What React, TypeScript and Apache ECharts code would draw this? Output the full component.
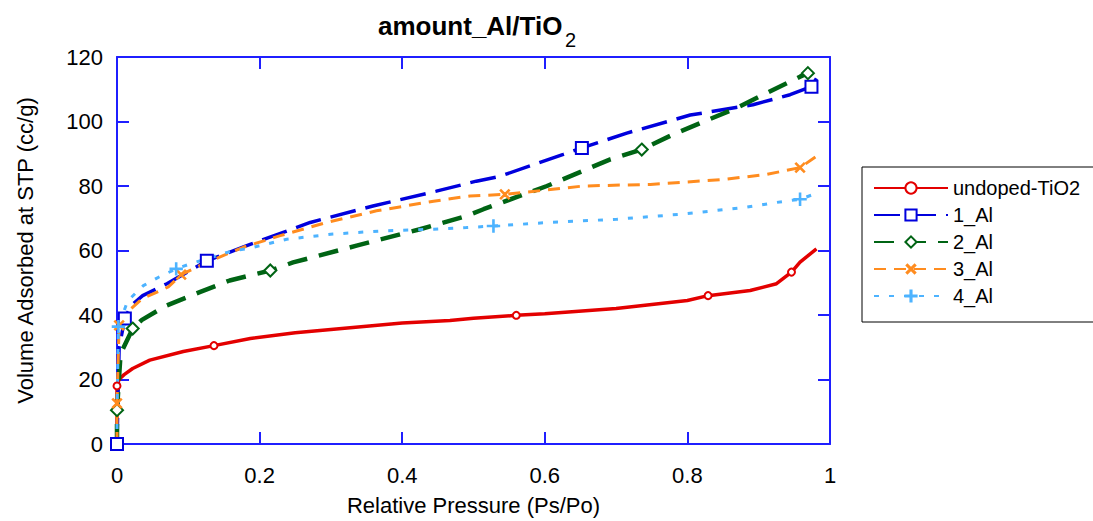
import React, { useEffect, useRef } from "react";
import * as echarts from "echarts";

const FONT = "'Liberation Sans', Arial, sans-serif";

const seriesNames = ["undoped-TiO2", "1_Al", "2_Al", "3_Al", "4_Al"];

const undopedX = [0, 0, 0.002, 0.005, 0.01, 0.022, 0.046, 0.093, 0.136, 0.187, 0.25, 0.3, 0.4, 0.467, 0.5, 0.56, 0.6, 0.7, 0.8, 0.829, 0.888, 0.925, 0.946, 0.958, 0.981];
const undopedY = [0, 18, 19.5, 20.5, 21.5, 23.4, 26, 28.7, 30.5, 32.7, 34.5, 35.5, 37.5, 38.3, 39, 39.9, 40.4, 42, 44.5, 46, 47.6, 49.7, 53.3, 56.4, 60.5];
const undopedMarks = [1, 8, 15, 19, 22];

const al1X = [0, 0.003, 0.011, 0.02, 0.036, 0.07, 0.126, 0.182, 0.271, 0.359, 0.448, 0.504, 0.537, 0.626, 0.652, 0.715, 0.804, 0.892, 0.944, 0.974, 0.981];
const al1Y = [0, 30, 38.9, 43, 46, 49.7, 56.8, 61.5, 68.7, 73.8, 78.4, 81.5, 83, 89.8, 91.8, 96.4, 102, 105.2, 108.3, 110.8, 113.4];
const al1Marks = [0, 2, 6, 14, 19];

const al2X = [0, 0, 0.005, 0.022, 0.035, 0.07, 0.116, 0.158, 0.215, 0.247, 0.336, 0.425, 0.49, 0.514, 0.603, 0.691, 0.736, 0.78, 0.869, 0.911, 0.958, 0.969];
const al2Y = [0, 10.5, 28, 35.8, 38.5, 43, 47.1, 50.7, 53.8, 56.3, 61.5, 66.6, 70.7, 72.8, 80, 88.2, 91.3, 96, 104.2, 108.8, 113.9, 115];
const al2Marks = [1, 3, 8, 16, 21];

const al3X = [0, 0, 0.003, 0.01, 0.035, 0.072, 0.09, 0.126, 0.177, 0.229, 0.294, 0.364, 0.444, 0.495, 0.544, 0.654, 0.748, 0.85, 0.911, 0.958, 0.981];
const al3Y = [0, 12.6, 36.8, 40, 45, 48.7, 52.5, 56.3, 61, 64.6, 68.7, 72.3, 75.3, 76.9, 77.4, 80, 80.5, 82, 83.6, 85.7, 89.2];
const al3Marks = [1, 2, 6, 14, 19];

const al4X = [0, 0, 0.002, 0.015, 0.037, 0.059, 0.083, 0.102, 0.156, 0.191, 0.238, 0.303, 0.373, 0.444, 0.49, 0.528, 0.607, 0.701, 0.794, 0.878, 0.925, 0.958, 0.977];
const al4Y = [0, 10, 36.4, 44.4, 49.1, 51.8, 54.3, 55.8, 59.5, 61, 63.5, 65.1, 66.1, 66.6, 67.1, 67.6, 68.7, 69.7, 71.3, 73.3, 74.9, 75.9, 77.4];
const al4Marks = [2, 6, 15, 21];

const xTicks = { min: 0, max: 1, interval: 0.2 };
const yTicks = { min: 0, max: 120, interval: 20 };

const PLUS = "path://M5.4,0H6.6V5.4H12V6.6H6.6V12H5.4V6.6H0V5.4H5.4Z";

const AXIS_BLUE = "#1f1fff";

function build(xs: number[], ys: number[], marks: number[], sym: string) {
  return xs.map((x, i) => ({
    value: [x, ys[i]],
    symbol: marks.includes(i) ? sym : "none",
  }));
}

const axisLine = { show: true, onZero: false, lineStyle: { color: AXIS_BLUE, width: 2 } };
const axisTick = { show: true, inside: true, length: 12, lineStyle: { color: AXIS_BLUE, width: 2 } };

export default function App() {
  const ref = useRef<HTMLDivElement>(null);
  useEffect(() => {
    if (!ref.current) return;
    const chart = echarts.init(ref.current, null, { renderer: "svg" });
    const mk = (
      name: string,
      xs: number[],
      ys: number[],
      marks: number[],
      sym: string,
      size: number,
      color: string,
      width: number,
      dash: any,
      rotate = 0
    ) => ({
      name,
      type: "line",
      data: build(xs, ys, marks, sym),
      symbol: sym,
      symbolSize: size,
      symbolRotate: rotate,
      showSymbol: true,
      showAllSymbol: true,
      lineStyle: { color, width, type: dash },
      itemStyle: { color, borderColor: color, borderWidth: 1.4 },
      emphasis: { disabled: true },
      silent: true,
    });
    chart.setOption({
      animation: false,
      textStyle: { fontFamily: FONT },
      graphic: [
        {
          type: "text",
          left: 378,
          top: 13,
          style: { text: "amount_Al/TiO", font: `bold 26px ${FONT}`, fill: "#000" },
        },
        {
          type: "text",
          left: 565,
          top: 30,
          style: { text: "2", font: `20px ${FONT}`, fill: "#000" },
        },
      ],
      grid: { left: 117, top: 57, width: 713, height: 389, containLabel: false },
      legend: {
        orient: "vertical",
        left: 862,
        top: 167,
        padding: [11, 14, 16, 11],
        itemWidth: 74,
        itemHeight: 14,
        itemGap: 7,
        borderColor: "#000",
        borderWidth: 1,
        selectedMode: false,
        data: seriesNames,
        textStyle: { fontSize: 20, color: "#000", fontFamily: FONT, lineHeight: 20 },
      },
      xAxis: [
        {
          type: "value",
          position: "bottom",
          min: xTicks.min,
          max: xTicks.max,
          interval: xTicks.interval,
          name: "Relative Pressure (Ps/Po)",
          nameLocation: "middle",
          nameGap: 50,
          nameTextStyle: { fontSize: 22, color: "#000", fontFamily: FONT },
          axisLine,
          axisTick,
          axisLabel: { fontSize: 22, color: "#000", margin: 20, fontFamily: FONT },
          splitLine: { show: false },
        },
        {
          type: "value",
          position: "top",
          min: xTicks.min,
          max: xTicks.max,
          interval: xTicks.interval,
          axisLine,
          axisTick,
          axisLabel: { show: false },
          splitLine: { show: false },
        },
      ],
      yAxis: [
        {
          type: "value",
          position: "left",
          min: yTicks.min,
          max: yTicks.max,
          interval: yTicks.interval,
          name: "Volume Adsorbed at STP (cc/g)",
          nameLocation: "middle",
          nameGap: 81,
          nameTextStyle: { fontSize: 22, color: "#000", fontFamily: FONT },
          axisLine,
          axisTick,
          axisLabel: { fontSize: 22, color: "#000", margin: 14, fontFamily: FONT },
          splitLine: { show: false },
        },
        {
          type: "value",
          position: "right",
          min: yTicks.min,
          max: yTicks.max,
          interval: yTicks.interval,
          axisLine,
          axisTick,
          axisLabel: { show: false },
          splitLine: { show: false },
        },
      ],
      series: [
        mk(seriesNames[0], undopedX, undopedY, undopedMarks, "emptyCircle", 7, "#e30000", 3.5, "solid"),
        mk(seriesNames[1], al1X, al1Y, al1Marks, "emptyRect", 12, "#0000dd", 3.5, [26, 10]),
        mk(seriesNames[2], al2X, al2Y, al2Marks, "emptyDiamond", 12, "#006414", 4.5, [20, 12]),
        mk(seriesNames[3], al3X, al3Y, al3Marks, PLUS, 12, "#ff8c1f", 3, [12, 8], 45),
        mk(seriesNames[4], al4X, al4Y, al4Marks, PLUS, 12, "#4db3ff", 3, [5, 10]),
      ],
    });
    return () => chart.dispose();
  }, []);
  return (
    <div
      ref={ref}
      style={{ position: "fixed", left: 0, top: 0, width: 1093, height: 521, background: "#fff" }}
    />
  );
}
